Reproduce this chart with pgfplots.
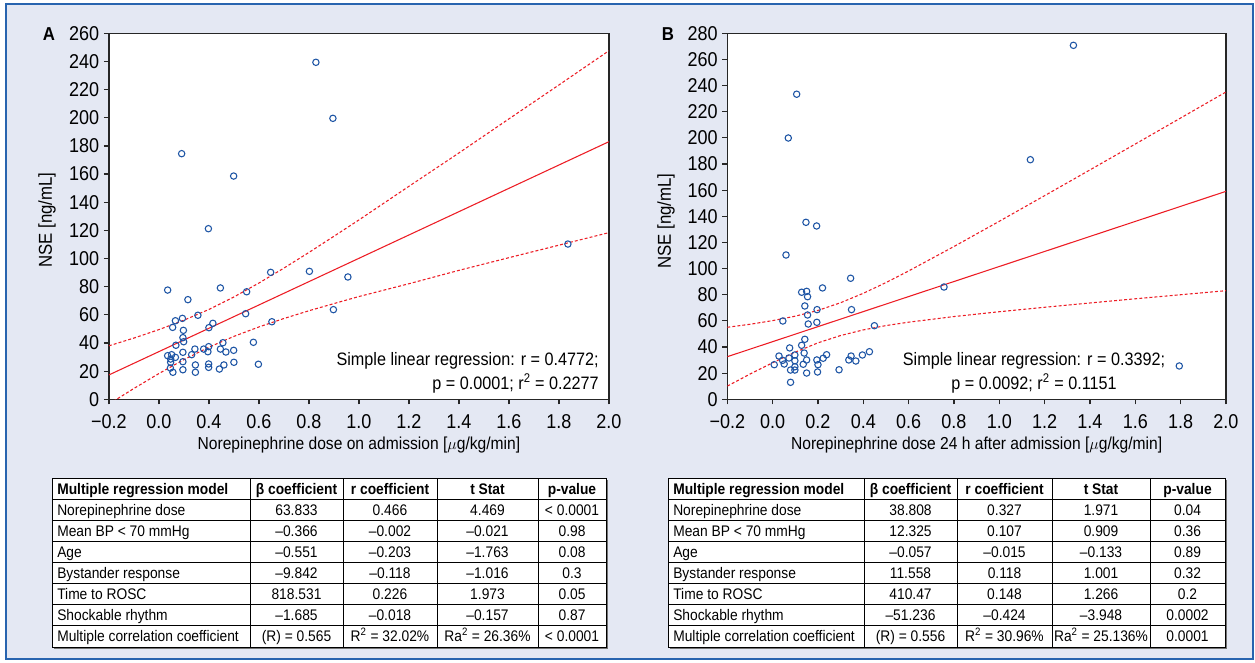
\documentclass[border=0pt]{standalone}
\usepackage{fontspec}
\setmainfont{Liberation Sans}[FakeStretch=0.9]
\usepackage{pgfplots}
\pgfplotsset{compat=1.18}
\definecolor{bgc}{RGB}{228,232,243}
\definecolor{bord}{RGB}{40,100,175}
\definecolor{mk}{RGB}{30,85,165}
\definecolor{rl}{RGB}{237,28,36}
\pgfplotsset{myax/.style={
  scale only axis,
  axis background/.style={fill=white},
  axis line style={black!85, line width=0.9pt},
  tick style={black!85, line width=0.9pt},
  tick align=outside, tick pos=left,
  major tick length=3.75pt,
  ymin=0,
  tick label style={font=\fontsize{15}{16}\selectfont},
  xticklabel style={yshift=-4pt},
  /pgf/number format/assume math mode=true,
  clip=true,
  height=274.5pt,
}}
\newcommand\trow[6]{%
  \node[anchor=base west,inner sep=0] at (\tl,#1) {#2};
  \node[anchor=base,inner sep=0] at (\ca,#1) {#3};
  \node[anchor=base,inner sep=0] at (\cb,#1) {#4};
  \node[anchor=base,inner sep=0] at (\cc,#1) {#5};
  \node[anchor=base,inner sep=0] at (\cd,#1) {#6};}
\begin{document}
\begin{tikzpicture}
\begin{scope}[x=0.75pt,y=-0.75pt]
\useasboundingbox (0,0) rectangle (1255,663);
\fill[white] (0,0) rectangle (1255,663);
\filldraw[fill=bgc, draw=bord, line width=1.1pt] (6,4) rectangle (1253,659);
\end{scope}

% ---------- Panel A ----------
\begin{axis}[myax, at={(81.675pt,-299.475pt)}, anchor=south west,
  width=375pt,
  xmin=-0.2, xmax=1.8, ymax=260,
  xtick={-0.2,0,0.2,0.4,0.6,0.8,1.0,1.2,1.4,1.6,1.8},
  xticklabels={−0.2,0.0,0.4,0.6,0.8,1.0,1.2,1.4,1.6,1.8,2.0},
  ytick={0,20,...,260}]
\addplot[rl, line width=0.8pt, dash pattern=on 2.2pt off 1.6pt] coordinates {
(-0.2,-3.4) (-0.1,7.7) (0,18.3) (0.1,28.2) (0.2,37.0) (0.3,44.7) (0.4,51.4) (0.5,57.4) (0.6,62.9) (0.7,68.0) (0.8,73.0) (1.0,82.1) (1.2,91.6) (1.4,100.6) (1.6,109.5) (1.8,118.4)};
\addplot[rl, line width=0.8pt, dash pattern=on 2.2pt off 1.6pt] coordinates {
(-0.2,38.0) (-0.1,43.5) (0,49.5) (0.1,56.2) (0.2,63.8) (0.3,72.7) (0.4,82.6) (0.5,93.2) (0.6,104.3) (0.7,115.8) (0.8,127.4) (1.0,151.3) (1.2,175.0) (1.4,199.2) (1.6,223.3) (1.8,247.6)};
\addplot[rl, line width=0.8pt] coordinates {(-0.2,17.3) (1.8,183.0)};
\addplot[only marks, mark=o, mark size=2.4pt, mk, mark options={line width=0.8pt}] coordinates {
(0.628,239.4) (0.696,199.6) (0.091,174.5) (0.299,158.6) (0.198,121.2) (1.636,110.3) (0.447,90.2) (0.602,90.9) (0.756,86.9) (0.035,77.6) (0.246,79.1) (0.351,76.4) (0.116,70.8) (0.698,63.7) (0.156,59.7) (0.347,60.8) (0.452,55.1) (0.066,55.8) (0.094,57.5) (0.055,51.1) (0.098,49.0) (0.216,54.0) (0.200,50.9) (0.096,43.8) (0.099,40.9) (0.068,38.4) (0.378,40.5) (0.256,40.2) (0.199,37.4) (0.144,35.7) (0.179,35.7) (0.246,35.7) (0.299,34.8) (0.196,33.8) (0.268,33.6) (0.096,33.4) (0.131,31.7) (0.035,31.0) (0.051,31.7) (0.066,29.8) (0.047,28.6) (0.047,26.3) (0.096,26.7) (0.300,26.3) (0.398,24.9) (0.146,24.4) (0.199,25.1) (0.260,24.4) (0.199,22.7) (0.242,21.5) (0.046,22.2) (0.096,21.0) (0.056,19.2) (0.146,19.2)};
\end{axis}

% ---------- Panel B ----------
\begin{axis}[myax, at={(545.475pt,-299.475pt)}, anchor=south west,
  width=374pt,
  xmin=-0.2, xmax=2.0, ymax=280,
  xtick={-0.2,0,0.2,0.4,0.6,0.8,1.0,1.2,1.4,1.6,1.8,2.0},
  xticklabels={−0.2,0.0,0.2,0.4,0.6,0.8,1.0,1.2,1.4,1.6,1.8,2.0},
  ytick={0,20,...,280}]
\addplot[rl, line width=0.8pt, dash pattern=on 2.2pt off 1.6pt] coordinates {
(-0.2,10.1) (-0.1,19.3) (0,28.0) (0.1,36.1) (0.2,43.2) (0.3,48.8) (0.4,53.1) (0.5,56.4) (0.6,59.0) (0.8,63.3) (1.0,67.0) (1.2,70.4) (1.4,73.7) (1.6,76.9) (1.8,80.0) (2.0,83.1)};
\addplot[rl, line width=0.8pt, dash pattern=on 2.2pt off 1.6pt] coordinates {
(-0.2,55.1) (-0.1,57.4) (0,60.2) (0.1,63.6) (0.2,68.0) (0.3,73.9) (0.4,81.1) (0.5,89.3) (0.6,98.2) (0.8,116.9) (1.0,136.2) (1.2,155.8) (1.4,175.5) (1.6,195.3) (1.8,215.2) (2.0,235.1)};
\addplot[rl, line width=0.8pt] coordinates {(-0.2,32.6) (2.0,159.1)};
\addplot[only marks, mark=o, mark size=2.4pt, mk, mark options={line width=0.8pt}] coordinates {
(1.327,270.8) (1.137,183.3) (0.756,85.9) (1.794,25.5) (0.106,233.4) (0.069,199.9) (0.147,135.4) (0.194,132.6) (0.059,110.4) (0.344,92.6) (0.220,85.2) (0.128,81.9) (0.150,82.6) (0.154,78.5) (0.142,71.4) (0.196,68.6) (0.348,68.6) (0.154,64.5) (0.045,59.9) (0.195,58.9) (0.157,57.6) (0.449,56.3) (0.142,45.9) (0.075,39.3) (0.128,41.3) (0.139,35.4) (0.028,33.1) (0.098,33.9) (0.072,31.6) (0.238,34.1) (0.223,31.4) (0.346,33.1) (0.427,36.4) (0.396,33.9) (0.336,30.1) (0.367,29.3) (0.044,29.8) (0.098,29.5) (0.150,30.1) (0.195,30.1) (0.007,26.5) (0.051,27.0) (0.135,26.8) (0.200,26.5) (0.098,24.9) (0.079,22.4) (0.098,22.4) (0.293,22.6) (0.150,20.1) (0.198,20.9) (0.079,13.0)};
\end{axis}

\begin{scope}[x=0.75pt,y=-0.75pt]
% panel letters
\node[font=\fontsize{14}{16}\selectfont\bfseries] at (49,34) {A};
\node[font=\fontsize{14}{16}\selectfont\bfseries] at (668,34) {B};
% axis labels
\node[rotate=90, font=\fontsize{14}{15}\selectfont] at (47,220) {NSE [ng/mL]};
\node[rotate=90, font=\fontsize{14}{15}\selectfont] at (666,221) {NSE [ng/mL]};
\node[font=\fontsize{13}{15}\selectfont] at (358.9,445) {Norepinephrine dose on admission [$\mu$g/kg/min]};
\node[font=\fontsize{13}{15}\selectfont] at (976.6,445) {Norepinephrine dose 24 h after admission [$\mu$g/kg/min]};
% regression texts
\node[anchor=east, inner sep=0, font=\fontsize{13.5}{15}\selectfont] at (599,361) {Simple linear regression: r = 0.4772;};
\node[anchor=east, inner sep=0, font=\fontsize{13.5}{15}\selectfont] at (599,383) {p = 0.0001; r\textsuperscript{2} = 0.2277};
\node[inner sep=0, font=\fontsize{13.5}{15}\selectfont] at (1034,361) {Simple linear regression: r = 0.3392;};
\node[inner sep=0, font=\fontsize{13.5}{15}\selectfont] at (1034,383) {p = 0.0092; r\textsuperscript{2} = 0.1151};

% ---------- Table A ----------
\fill[black!55] (54,480) rectangle (608,649);
\filldraw[fill=white, draw=black, line width=0.75pt] (52,478) rectangle (606,647);
\foreach \yy in {499.1,520.2,541.3,562.4,583.5,604.6,625.7} \draw[line width=0.5pt] (52,\yy) -- (606,\yy);
\foreach \xx in {250,343,437,538} \draw[line width=0.5pt] (\xx,478) -- (\xx,647);
\def\tl{57}\def\ca{296.5}\def\cb{390}\def\cc{487.5}\def\cd{572}
\begin{scope}[font=\fontsize{11.5}{13}\selectfont]
\trow{494}{\textbf{Multiple regression model}}{\textbf{β coefficient}}{\textbf{r coefficient}}{\textbf{t Stat}}{\textbf{p-value}}
\trow{515.1}{Norepinephrine dose}{63.833}{0.466}{4.469}{< 0.0001}
\trow{536.2}{Mean BP < 70 mmHg}{–0.366}{–0.002}{–0.021}{0.98}
\trow{557.3}{Age}{–0.551}{–0.203}{–1.763}{0.08}
\trow{578.4}{Bystander response}{–9.842}{–0.118}{–1.016}{0.3}
\trow{599.5}{Time to ROSC}{818.531}{0.226}{1.973}{0.05}
\trow{620.6}{Shockable rhythm}{–1.685}{–0.018}{–0.157}{0.87}
\trow{641.7}{Multiple correlation coefficient}{(R) = 0.565}{R\textsuperscript{2} = 32.02\%}{Ra\textsuperscript{2} = 26.36\%}{< 0.0001}
\end{scope}

% ---------- Table B ----------
\fill[black!55] (670,480) rectangle (1227,649);
\filldraw[fill=white, draw=black, line width=0.75pt] (668,478) rectangle (1225,647);
\foreach \yy in {499.1,520.2,541.3,562.4,583.5,604.6,625.7} \draw[line width=0.5pt] (668,\yy) -- (1225,\yy);
\foreach \xx in {864,957,1052,1150} \draw[line width=0.5pt] (\xx,478) -- (\xx,647);
\def\tl{673}\def\ca{910.5}\def\cb{1004.5}\def\cc{1101}\def\cd{1187.5}
\begin{scope}[font=\fontsize{11.5}{13}\selectfont]
\trow{494}{\textbf{Multiple regression model}}{\textbf{β coefficient}}{\textbf{r coefficient}}{\textbf{t Stat}}{\textbf{p-value}}
\trow{515.1}{Norepinephrine dose}{38.808}{0.327}{1.971}{0.04}
\trow{536.2}{Mean BP < 70 mmHg}{12.325}{0.107}{0.909}{0.36}
\trow{557.3}{Age}{–0.057}{–0.015}{–0.133}{0.89}
\trow{578.4}{Bystander response}{11.558}{0.118}{1.001}{0.32}
\trow{599.5}{Time to ROSC}{410.47}{0.148}{1.266}{0.2}
\trow{620.6}{Shockable rhythm}{–51.236}{–0.424}{–3.948}{0.0002}
\trow{641.7}{Multiple correlation coefficient}{(R) = 0.556}{R\textsuperscript{2} = 30.96\%}{Ra\textsuperscript{2} = 25.136\%}{0.0001}
\end{scope}
\end{scope}
\end{tikzpicture}
\end{document}
